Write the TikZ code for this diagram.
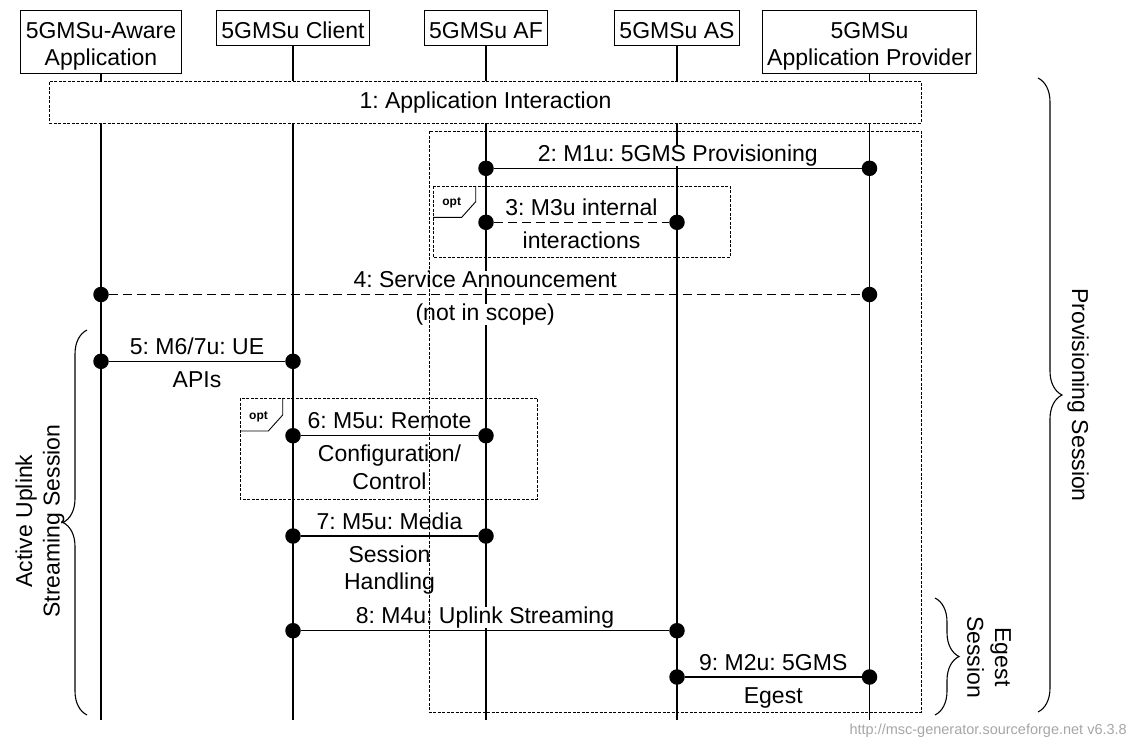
\documentclass[tikz,border=0pt]{standalone}
\usepackage{fontspec}
\setmainfont{Liberation Sans}
\usetikzlibrary{positioning,calc,decorations.pathreplacing}

\begin{document}
\frenchspacing
\begin{tikzpicture}[
    x=1pt,
    y=-1pt,
    font=\fontsize{23}{27.6}\selectfont,
    entity/.style={
        rectangle,
        draw=black,
        line width=1pt,
        fill=white,
        inner xsep=5pt,
        inner ysep=6.7pt,
        text height=21.6pt,
        text depth=0pt,
        anchor=north,
        align=center
    },
    twoline/.style={font=\fontsize{23}{26.7}\selectfont, text height=48.3pt, text depth=1.6pt},
    lifeline/.style={draw, line width=1.2pt},
    msgline/.style={draw, line width=1.4pt},
    dashmsg/.style={msgline, dash pattern=on 9pt off 5pt},
    dot/.style={circle, fill=black, inner sep=0pt, minimum size=15.5pt},
    lbl/.style={inner sep=0pt, fill=white, align=center, anchor=base},
    frame/.style={draw, line width=0.9pt, dash pattern=on 3pt off 1.5pt},
    tagline/.style={draw, line width=0.9pt},
    opttag/.style={font=\fontsize{12}{14}\selectfont\bfseries, inner sep=0pt},
    sessbrace/.style={draw, line width=1.1pt, decorate, decoration={brace, amplitude=24pt}}
]
    \useasboundingbox (0,0) rectangle (1130,745);

    % Entities
    \node[entity, twoline] (aware) at (101,10) {5GMSu-Aware\\Application};
    \node[entity] (client) at (293,10) {5GMSu Client};
    \node[entity] (af) at (486,10) {5GMSu AF};
    \node[entity] (as) at (677,10) {5GMSu AS};
    \node[entity, twoline] (prov) at (869.5,10) {5GMSu\\Application Provider};

    % Lifelines
    \coordinate (awareEnd) at (101,720);
    \coordinate (clientEnd) at (293,720);
    \coordinate (afEnd) at (486,720);
    \coordinate (asEnd) at (677,720);
    \coordinate (provEnd) at (869.5,720);
    \draw[lifeline] (aware) -- (awareEnd);
    \draw[lifeline] (client) -- (clientEnd);
    \draw[lifeline] (af) -- (afEnd);
    \draw[lifeline] (as) -- (asEnd);
    \draw[lifeline] (prov) -- (provEnd);

    % Application interaction
    \node[frame, fill=white, minimum width=872pt, minimum height=41.5pt, anchor=north west] (appint) at (49,81) {1: Application Interaction};

    % Labels
    \node[lbl] (l2) at (677.75,161.3) {2: M1u: 5GMS Provisioning};
    \node[lbl] (l3a) at (581.5,215.3) {3: M3u internal};
    \node[lbl] (l3b) at (581.5,248.5) {interactions};
    \node[lbl] (l4a) at (485.25,287.5) {4: Service Announcement};
    \node[lbl] (l4b) at (485.25,320.7) {(not in scope)};
    \node[lbl] (l5a) at (197,354.3) {5: M6/7u: UE};
    \node[lbl] (l5b) at (197,387.5) {APIs};
    \node[lbl] (l6a) at (389.5,428.7) {6: M5u: Remote};
    \node[lbl] (l6b) at (389.5,489.5) {Configuration/\\Control};
    \node[lbl] (l7a) at (389.5,529) {7: M5u: Media};
    \node[lbl] (l7b) at (389.5,589.8) {Session\\Handling};
    \node[lbl] (l8) at (485,623.7) {8: M4u: Uplink Streaming};
    \node[lbl] (l9a) at (773.25,670) {9: M2u: 5GMS};
    \node[lbl] (l9b) at (773.25,703.2) {Egest};

    % Messages
    \node[dot] (m2a) at (486,168.3) {};
    \node[dot] (m2b) at (869.5,168.3) {};
    \draw[msgline] (m2a) -- (m2b);
    \node[dot] (m3a) at (486,222.3) {};
    \node[dot] (m3b) at (677,222.3) {};
    \draw[dashmsg] (m3a) -- (m3b);
    \node[dot] (m4a) at (101,294.5) {};
    \node[dot] (m4b) at (869.5,294.5) {};
    \draw[dashmsg] (m4a) -- (m4b);
    \node[dot] (m5a) at (101,361.3) {};
    \node[dot] (m5b) at (293,361.3) {};
    \draw[msgline] (m5a) -- (m5b);
    \node[dot] (m6a) at (293,435.7) {};
    \node[dot] (m6b) at (486,435.7) {};
    \draw[msgline] (m6a) -- (m6b);
    \node[dot] (m7a) at (293,536) {};
    \node[dot] (m7b) at (486,536) {};
    \draw[msgline] (m7a) -- (m7b);
    \node[dot] (m8a) at (293,630.7) {};
    \node[dot] (m8b) at (677,630.7) {};
    \draw[msgline] (m8a) -- (m8b);
    \node[dot] (m9a) at (677,677) {};
    \node[dot] (m9b) at (869.5,677) {};
    \draw[msgline] (m9a) -- (m9b);

    % Provisioning frame
    \draw[frame] (429,131) rectangle (921,712);

    % opt frames
    \draw[frame] (433,186) rectangle (730,257);
    \draw[tagline] (475.7,186) -- (475.7,201.7) -- (461.7,217.3) -- (433,217.3);
    \node[opttag] (opt3) at (451.7,203) {opt};
    \draw[frame] (240,398.3) rectangle (537.7,499);
    \draw[tagline] (282.7,398.3) -- (282.7,415) -- (268.3,431) -- (240,431);
    \node[opttag] (opt6) at (258.5,416.5) {opt};

    % Sessions
    \draw[sessbrace] (87,715) -- (87,330);
    \node[rotate=90, align=center] (activeTxt) at (40,521) {Active Uplink\\Streaming Session};
    \draw[sessbrace] (1038,78) -- (1038,712);
    \node[rotate=-90] (provTxt) at (1078,395) {Provisioning Session};
    \draw[sessbrace] (935,598) -- (935,715);
    \node[rotate=-90, align=center] (egestTxt) at (989,657) {Egest\\Session};

    \node[anchor=base east, inner sep=0pt, text=gray!70, font=\fontsize{14.5}{17}\selectfont] (credit) at (1127,734) {http://msc-generator.sourceforge.net v6.3.8};
\end{tikzpicture}
\end{document}
